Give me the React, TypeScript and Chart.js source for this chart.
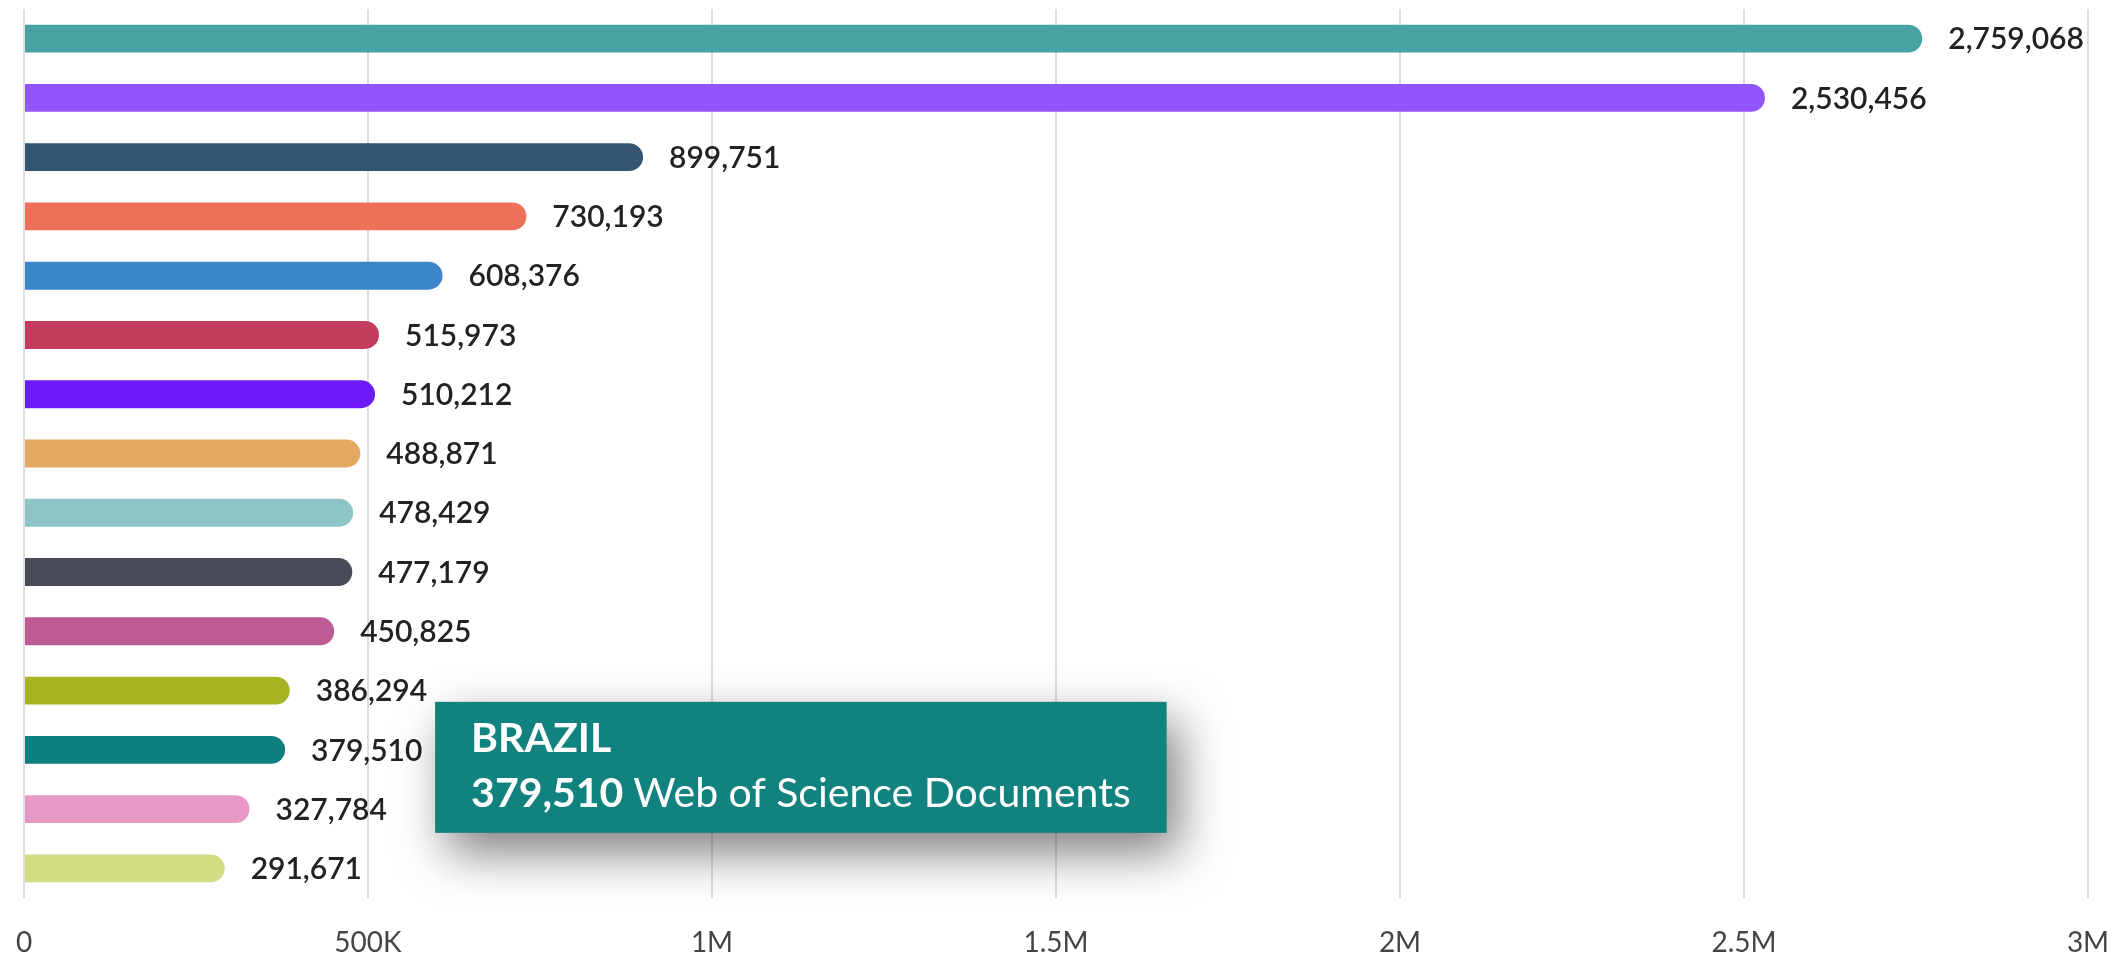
import React, { useEffect, useRef } from "react";
import { Chart, registerables } from "chart.js";

Chart.register(...registerables);

const categories = [
  "USA",
  "CHINA",
  "ENGLAND",
  "GERMANY",
  "JAPAN",
  "ITALY",
  "INDIA",
  "CANADA",
  "FRANCE",
  "AUSTRALIA",
  "SPAIN",
  "SOUTH KOREA",
  "BRAZIL",
  "NETHERLANDS",
  "RUSSIA",
];

const documents = [
  2759068, 2530456, 899751, 730193, 608376, 515973, 510212, 488871, 478429,
  477179, 450825, 386294, 379510, 327784, 291671,
];

const barColors = [
  "#47A2A2",
  "#9155FE",
  "#34546F",
  "#EE705A",
  "#3E86CA",
  "#C33C5E",
  "#6C1BF8",
  "#E3A960",
  "#8DC4C5",
  "#484C57",
  "#BE5A94",
  "#A6B424",
  "#0D7F7D",
  "#E898C5",
  "#D2DC84",
];

const tickValues = [0, 500000, 1000000, 1500000, 2000000, 2500000, 3000000];
const tickLabels = ["0", "500K", "1M", "1.5M", "2M", "2.5M", "3M"];

const highlightedIndex = 12;
const tooltipSuffix = "Web of Science Documents";

const FONT = "Lato, 'Open Sans', sans-serif";

const fmt = (v: number) => v.toLocaleString("en-US");

const valueLabelPlugin = {
  id: "valueLabels",
  afterDatasetsDraw(chart: any) {
    const ctx = chart.ctx;
    const meta = chart.getDatasetMeta(0);
    ctx.save();
    ctx.font = `600 30px ${FONT}`;
    ctx.fillStyle = "#222222";
    ctx.textAlign = "left";
    ctx.textBaseline = "middle";
    meta.data.forEach((el: any, i: number) => {
      ctx.fillText(fmt(documents[i]), el.x + 26, el.y + 1);
    });
    ctx.restore();
  },
};

const tooltipPlugin = {
  id: "fixedTooltip",
  afterDraw(chart: any) {
    const ctx = chart.ctx;
    const el = chart.getDatasetMeta(0).data[highlightedIndex];
    if (!el) return;
    const title = categories[highlightedIndex].toUpperCase();
    const valueText = fmt(documents[highlightedIndex]);
    const bold = `bold 41px ${FONT}`;
    const regular = `normal 41px ${FONT}`;
    ctx.save();
    ctx.font = bold;
    const valueW = ctx.measureText(valueText + " ").width;
    ctx.font = regular;
    const suffixW = ctx.measureText(tooltipSuffix).width;
    const padX = 36;
    const w = valueW + suffixW + padX * 2;
    const h = 131;
    const x0 = el.x + 150;
    const y0 = el.y - 48;

    ctx.shadowColor = "rgba(0,0,0,0.5)";
    ctx.shadowBlur = 48;
    ctx.shadowOffsetX = 12;
    ctx.shadowOffsetY = 20;
    ctx.fillStyle = "#12827F";
    ctx.fillRect(x0, y0, w, h);
    ctx.shadowColor = "transparent";
    ctx.shadowBlur = 0;
    ctx.shadowOffsetX = 0;
    ctx.shadowOffsetY = 0;

    ctx.fillStyle = "#FFFFFF";
    ctx.textAlign = "left";
    ctx.textBaseline = "alphabetic";
    ctx.font = bold;
    ctx.fillText(title, x0 + padX, y0 + 50);
    ctx.fillText(valueText, x0 + padX, y0 + 105);
    ctx.font = regular;
    ctx.fillText(tooltipSuffix, x0 + padX + valueW, y0 + 105);
    ctx.restore();
  },
};

export default function App() {
  const canvasRef = useRef<HTMLCanvasElement | null>(null);

  useEffect(() => {
    if (!canvasRef.current) return;
    const chart = new Chart(canvasRef.current, {
      type: "bar",
      data: {
        labels: categories,
        datasets: [
          {
            label: tooltipSuffix,
            data: documents,
            backgroundColor: barColors,
            borderRadius: 14,
            borderSkipped: "start",
            barPercentage: 0.47,
            categoryPercentage: 1,
          },
        ],
      },
      options: {
        indexAxis: "y",
        animation: false,
        responsive: true,
        maintainAspectRatio: false,
        devicePixelRatio: 1,
        layout: { padding: { left: 24, right: 25, top: 9, bottom: 0 } },
        plugins: {
          legend: { display: false },
          tooltip: { enabled: false },
          title: { display: false },
        },
        scales: {
          x: {
            type: "linear",
            min: 0,
            max: 3000000,
            afterBuildTicks: (scale: any) => {
              scale.ticks = tickValues.map((v) => ({ value: v }));
            },
            afterFit: (scale: any) => {
              scale.height = 67;
            },
            ticks: {
              autoSkip: false,
              maxRotation: 0,
              padding: 0,
              color: "#444444",
              font: { family: FONT, size: 28 },
              callback: (_v: any, i: number) => tickLabels[i],
            },
            grid: {
              color: "#DEDEDE",
              lineWidth: 2,
              drawTicks: true,
              tickLength: 28,
              tickColor: "rgba(0,0,0,0)",
            },
            border: { display: false },
          },
          y: {
            type: "category",
            display: false,
          },
        },
      },
      plugins: [valueLabelPlugin, tooltipPlugin],
    });
    return () => chart.destroy();
  }, []);

  return (
    <div
      style={{
        position: "fixed",
        left: 0,
        top: 0,
        width: "2113px",
        height: "965px",
        background: "#FFFFFF",
      }}
    >
      <canvas ref={canvasRef} />
    </div>
  );
}
